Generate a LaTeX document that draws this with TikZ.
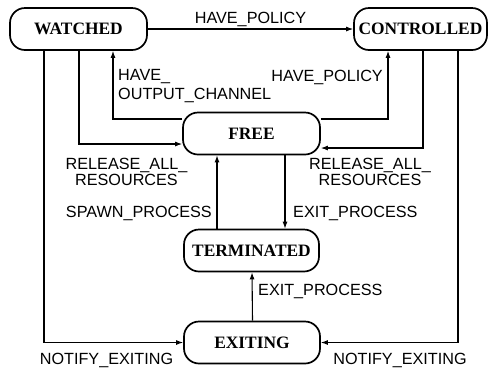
\documentclass[tikz,border=0pt]{standalone}
\usepackage{fontspec}
\setmainfont{Liberation Serif}
\newfontfamily\lblfont{Liberation Sans}
\usetikzlibrary{arrows.meta}

\begin{document}
\begin{tikzpicture}[x=1pt,y=-1pt,
  state/.style={draw, line width=1.7pt, rounded corners=15pt,
    minimum height=42pt, inner sep=0pt,
    font=\fontsize{17.4}{20}\selectfont\bfseries},
  lbl/.style={inner sep=0pt, font=\lblfont\fontsize{16.2}{16}\selectfont},
  arr/.style={line width=1.1pt, -{Latex[length=7pt,width=5pt]}}]

\useasboundingbox (0,0) rectangle (489,368);

% states
\node[state, minimum width=137pt] (watched)    at (78.5,29)    {WATCHED};
\node[state, minimum width=133pt] (controlled) at (420.5,29)   {CONTROLLED};
\node[state, minimum width=137pt] (free)       at (251.5,133.5) {FREE};
\node[state, minimum width=135pt] (terminated) at (251.5,250.5) {TERMINATED};
\node[state, minimum width=136pt] (exiting)    at (252,342.5)  {EXITING};

% transitions
\draw[arr] (watched) -- (controlled);
\draw[arr] ([yshift=14.5pt]free.west) -| ([xshift=34.5pt]watched.south);
\draw[arr] ([xshift=0.5pt]watched.south) |- ([yshift=-10.5pt]free.west);
\draw[arr] ([yshift=14.5pt]free.east) -| ([xshift=-32.5pt]controlled.south);
\draw[arr] ([xshift=2.5pt]controlled.south) |- ([yshift=-14.5pt]free.east);
\draw[arr] ([xshift=33.5pt]free.south) -- ([xshift=33.5pt]terminated.north);
\draw[arr] ([xshift=-34.5pt]terminated.north) -- ([xshift=-34.5pt]free.south);
\draw[arr] ([xshift=0.5pt]exiting.north) -- ([xshift=0.5pt]terminated.south);
\draw[arr] ([xshift=-34.5pt]watched.south) |- (exiting.west);
\draw[arr] ([xshift=37.5pt]controlled.south) |- (exiting.east);

% transition labels (multi-line labels anchored at their last baseline)
\node[lbl, anchor=base] (l1) at (250.5,23) {HAVE\_POLICY};
\node[lbl, anchor=base west, align=left,
  font=\lblfont\fontsize{16.2}{18.5}\selectfont] (l2) at (118,99.4) {HAVE\_\\OUTPUT\_CHANNEL};
\node[lbl, anchor=base east] (l3) at (383,81.5) {HAVE\_POLICY};
\node[lbl, anchor=base, align=center] (l4) at (126.5,185) {RELEASE\_ALL\_\\RESOURCES};
\node[lbl, anchor=base, align=center] (l5) at (370,185) {RELEASE\_ALL\_\\RESOURCES};
\node[lbl, anchor=base east] (l6) at (212,217.6) {SPAWN\_PROCESS};
\node[lbl, anchor=base west] (l7) at (293,217.6) {EXIT\_PROCESS};
\node[lbl, anchor=base west] (l8) at (258,295.6) {EXIT\_PROCESS};
\node[lbl, anchor=base] (l9) at (106.5,364.6) {NOTIFY\_EXITING};
\node[lbl, anchor=base] (l10) at (400,364.6) {NOTIFY\_EXITING};
\end{tikzpicture}
\end{document}
